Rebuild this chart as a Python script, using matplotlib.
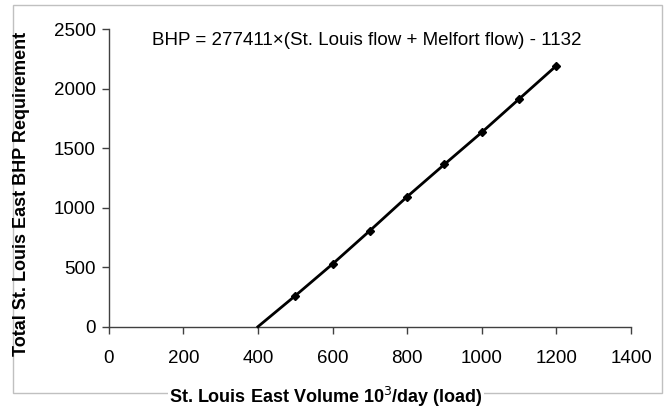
import matplotlib
matplotlib.use("Agg")
import matplotlib.pyplot as plt
from matplotlib.patches import Rectangle

plt.rcParams['font.family'] = ['Liberation Sans', 'DejaVu Sans']

volume = [400, 500, 600, 700, 800, 900, 1000, 1100, 1200]
bhp = [0, 260, 527, 807, 1093, 1365, 1634, 1914, 2194]
x_ticks = [0, 200, 400, 600, 800, 1000, 1200, 1400]
y_ticks = [0, 500, 1000, 1500, 2000, 2500]
equation = "BHP = 277411×(St. Louis flow + Melfort flow) - 1132"
x_label = "St. Louis East Volume 10$^3$/day (load)"
y_label = "Total St. Louis East BHP Requirement"

W, H = 668, 413
fig = plt.figure(figsize=(W / 100, H / 100), dpi=100)

# chart-area border
fig.patches.append(Rectangle((13 / W, 1 - 393 / H), (662 - 13) / W, (393 - 5) / H,
                             transform=fig.transFigure, fill=False,
                             edgecolor='#c0c0c0', linewidth=1.0, zorder=0))

ax = fig.add_axes([108.7 / W, 1 - 326.7 / H, (631 - 108.7) / W, (326.7 - 29.3) / H])
ax.plot(volume, bhp, color='black', linewidth=2.0, marker='D', markersize=4.5,
        markevery=list(range(1, len(volume))), clip_on=False, zorder=3)

ax.set_xlim(0, 1400)
ax.set_ylim(0, 2500)
ax.set_xticks(x_ticks)
ax.set_yticks(y_ticks)
for s in ['top', 'right']:
    ax.spines[s].set_visible(False)
for s in ['left', 'bottom']:
    ax.spines[s].set_color('#404040')
    ax.spines[s].set_linewidth(1.0)
ax.tick_params(axis='both', direction='out', length=5, width=1, color='#404040',
               labelsize=13.5)
ax.tick_params(axis='x', pad=12)
ax.tick_params(axis='y', pad=4.5)
ax.set_facecolor('none')

fig.text(151.7 / W, 1 - 40.7 / H, equation, fontsize=13.5, ha='left', va='center')

fig.text(21.5 / W, 1 - 193.5 / H, y_label, fontsize=13, fontweight='bold',
         rotation=90, ha='center', va='center')
fig.text(326 / W, 1 - 397 / H, x_label, fontsize=13, fontweight='bold',
         ha='center', va='center',
         bbox=dict(facecolor='white', edgecolor='none', pad=1))

fig.savefig("out.png", dpi=100)
